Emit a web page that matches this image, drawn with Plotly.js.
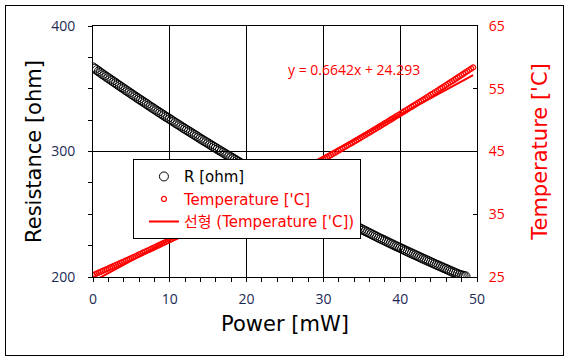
<!DOCTYPE html>
<html>
<head>
<meta charset="utf-8">
<script src="https://cdn.plot.ly/plotly-3.0.1.min.js"></script>
<style>
  html, body { margin: 0; padding: 0; background: #fff; }
  #wrap { position: relative; width: 569px; height: 361px; }
  #chart { width: 569px; height: 361px; }
  #frame { position: absolute; left: 5px; top: 5px; width: 557px; height: 349px; border: 1.5px solid #000; pointer-events: none; }
</style>
</head>
<body>
<div id="wrap"><div id="chart"></div><div id="frame"></div></div>
<script>
// Power [mW]
const power = [
  0,0.25,0.5,0.75,1,1.25,1.5,1.75,2,2.25,2.5,2.75,3,3.25,3.5,3.75,4,4.25,4.5,4.75,
  5,5.25,5.5,5.75,6,6.25,6.5,6.75,7,7.25,7.5,7.75,8,8.25,8.5,8.75,9,9.25,9.5,9.75,
  10,10.25,10.5,10.75,11,11.25,11.5,11.75,12,12.25,12.5,12.75,13,13.25,13.5,13.75,14,14.25,14.5,14.75,
  15,15.25,15.5,15.75,16,16.25,16.5,16.75,17,17.25,17.5,17.75,18,18.25,18.5,18.75,19,19.25,19.5,19.75,
  20,20.25,20.5,20.75,21,21.25,21.5,21.75,22,22.25,22.5,22.75,23,23.25,23.5,23.75,24,24.25,24.5,24.75,
  25,25.25,25.5,25.75,26,26.25,26.5,26.75,27,27.25,27.5,27.75,28,28.25,28.5,28.75,29,29.25,29.5,29.75,
  30,30.25,30.5,30.75,31,31.25,31.5,31.75,32,32.25,32.5,32.75,33,33.25,33.5,33.75,34,34.25,34.5,34.75,
  35,35.25,35.5,35.75,36,36.25,36.5,36.75,37,37.25,37.5,37.75,38,38.25,38.5,38.75,39,39.25,39.5,39.75,
  40,40.25,40.5,40.75,41,41.25,41.5,41.75,42,42.25,42.5,42.75,43,43.25,43.5,43.75,44,44.25,44.5,44.75,
  45,45.25,45.5,45.75,46,46.25,46.5,46.75,47,47.25,47.5,47.75,48,48.25,48.5,48.75,49,49.25,49.5];
// R [ohm]  (no visible R points past 48.5 mW)
const resistance = [
  367.0,366.0,364.9,363.8,362.7,361.6,360.6,359.5,358.5,357.4,356.4,355.3,354.3,353.2,352.2,351.1,350.1,349.0,348.0,347.0,
  345.9,344.9,343.9,342.8,341.8,340.8,339.8,338.8,337.8,336.7,335.7,334.7,333.7,332.7,331.7,330.7,329.7,328.7,327.7,326.8,
  325.8,324.8,323.8,322.8,321.8,320.9,319.9,318.9,317.9,317.0,316.0,315.1,314.1,313.2,312.2,311.2,310.2,309.3,308.3,307.4,
  306.5,305.5,304.6,303.6,302.7,301.7,300.8,299.9,299.0,298.0,297.1,296.2,295.3,294.4,293.5,292.5,291.6,290.7,289.8,288.9,
  288.0,287.1,286.2,285.3,284.4,283.5,282.7,281.8,280.9,280.0,279.1,278.2,277.4,276.5,275.6,274.7,273.9,273.0,272.2,271.3,
  270.5,269.6,268.8,267.9,267.1,266.2,265.4,264.5,263.7,262.8,262.0,261.2,260.4,259.5,258.7,257.9,257.1,256.2,255.4,254.6,
  253.8,253.0,252.2,251.4,250.6,249.8,249.0,248.2,247.4,246.6,245.8,245.0,244.2,243.4,242.7,241.9,241.1,240.3,239.6,238.8,
  238.0,237.2,236.5,235.7,235.0,234.2,233.4,232.7,231.9,231.1,230.4,229.7,229.0,228.2,227.5,226.7,226.0,225.2,224.5,223.8,
  223.1,222.4,221.7,220.9,220.2,219.5,218.8,218.1,217.4,216.7,216.0,215.3,214.6,213.9,213.2,212.5,211.8,211.1,210.4,209.7,
  209.1,208.4,207.7,207.0,206.4,205.7,205.0,204.3,203.7,203.0,202.4,201.8,201.3,200.9,200.6,null,null,null,null];
// Temperature ['C]
const temperature = [
  25.30,25.43,25.57,25.70,25.84,25.97,26.11,26.24,26.38,26.52,26.65,26.79,26.92,27.06,27.20,27.33,27.47,27.61,27.75,27.89,
  28.03,28.17,28.31,28.45,28.59,28.73,28.88,29.02,29.16,29.30,29.45,29.59,29.74,29.88,30.03,30.17,30.32,30.46,30.61,30.75,
  30.90,31.05,31.20,31.34,31.49,31.64,31.79,31.94,32.09,32.24,32.39,32.54,32.69,32.84,32.99,33.14,33.29,33.45,33.60,33.75,
  33.91,34.06,34.21,34.37,34.52,34.68,34.84,34.99,35.15,35.31,35.46,35.62,35.78,35.94,36.09,36.25,36.41,36.57,36.73,36.89,
  37.05,37.21,37.37,37.53,37.70,37.86,38.02,38.18,38.35,38.51,38.67,38.84,39.00,39.17,39.33,39.50,39.66,39.83,40.00,40.16,
  40.33,40.50,40.67,40.84,41.00,41.17,41.34,41.51,41.68,41.85,42.02,42.20,42.37,42.54,42.71,42.88,43.06,43.23,43.40,43.58,
  43.75,43.93,44.10,44.28,44.45,44.63,44.80,44.98,45.16,45.34,45.51,45.69,45.87,46.05,46.23,46.40,46.58,46.76,46.94,47.12,
  47.31,47.49,47.67,47.85,48.03,48.21,48.40,48.58,48.77,48.95,49.14,49.32,49.51,49.69,49.88,50.07,50.25,50.44,50.63,50.81,
  51.00,51.19,51.38,51.57,51.76,51.95,52.14,52.33,52.52,52.71,52.90,53.09,53.28,53.47,53.67,53.86,54.05,54.24,54.44,54.63,
  54.83,55.03,55.22,55.42,55.61,55.81,56.01,56.20,56.40,56.60,56.80,57.00,57.20,57.40,57.60,57.80,58.00,58.20,58.40];
// Linear trend shown on chart: y = 0.6642x + 24.293
const trendSlope = 0.6642;
const trendIntercept = 24.293;
const trendX = [0, 49.5];
const trendY = trendX.map(v => trendSlope * v + trendIntercept);
const trendLabel = "y = 0.6642x + 24.293";

const xTicks = [0, 10, 20, 30, 40, 50];
const yTicks = [200, 300, 400];
const y2Ticks = [25, 35, 45, 55, 65];

const FONT = "'DejaVu Sans', 'Noto Sans CJK KR', sans-serif";
const TICKFONT = "'Open Sans', 'Noto Sans CJK KR', sans-serif";
const NAVY = "#1c2a55";
const RED = "#ff0000";

const traces = [
  {
    x: power, y: resistance, type: 'scatter', mode: 'markers',
    name: '<span style="color:#000">R [ohm]</span>',
    marker: { symbol: 'circle-open', size: 9, color: '#000', line: { width: 1, color: '#000' } },
    yaxis: 'y'
  },
  {
    x: power, y: temperature, type: 'scatter', mode: 'markers',
    name: '<span style="color:#ff0000">Temperature [\'C]</span>',
    marker: { symbol: 'circle-open', size: 5, color: RED, line: { width: 1.2, color: RED } },
    yaxis: 'y2'
  },
  {
    x: trendX, y: trendY, type: 'scatter', mode: 'lines',
    name: '<span style="color:#ff0000">선형 (Temperature [\'C])</span>',
    line: { color: RED, width: 2 },
    yaxis: 'y2'
  }
];

const layout = {
  width: 569, height: 361,
  margin: { l: 93, r: 92, t: 26, b: 84 },
  paper_bgcolor: '#fff', plot_bgcolor: '#fff',
  font: { family: FONT, size: 14, color: '#000' },
  showlegend: true,
  legend: {
    x: 0.104, y: 0.31, xanchor: 'left', yanchor: 'middle',
    bgcolor: '#fff', bordercolor: '#000', borderwidth: 1,
    font: { family: FONT, size: 15, color: '#000' },
    tracegroupgap: 0, itemwidth: 30, indentation: 10
  },
  xaxis: {
    range: [0, 50], tickvals: xTicks, ticktext: xTicks.map(String),
    showgrid: true, gridcolor: '#000', gridwidth: 1,
    showline: true, linecolor: '#000', linewidth: 1, mirror: true,
    ticks: 'outside', ticklen: 4, tickcolor: '#000',
    minor: { dtick: 2, ticks: 'outside', ticklen: 4, tickcolor: '#000', showgrid: false },
    tickfont: { family: TICKFONT, size: 14, color: NAVY },
    ticklabelstandoff: 5,
    zeroline: false,
    title: { text: 'Power [mW]', font: { family: FONT, size: 21, color: '#000' }, standoff: 9 }
  },
  yaxis: {
    range: [200, 400], tickvals: yTicks, ticktext: yTicks.map(String),
    showgrid: true, gridcolor: '#000', gridwidth: 1,
    showline: true, linecolor: '#000', linewidth: 1,
    ticks: 'outside', ticklen: 4, tickcolor: '#000',
    minor: { dtick: 25, ticks: 'outside', ticklen: 4, tickcolor: '#000', showgrid: false },
    tickfont: { family: TICKFONT, size: 14, color: NAVY },
    ticklabelstandoff: 10,
    zeroline: false,
    title: { text: 'Resistance [ohm]', font: { family: FONT, size: 21, color: '#000' }, standoff: 3 }
  },
  yaxis2: {
    overlaying: 'y', side: 'right',
    range: [25, 65], tickvals: y2Ticks, ticktext: y2Ticks.map(String),
    showgrid: false, showline: true, linecolor: '#000', linewidth: 1,
    ticks: 'inside', ticklen: 4, tickcolor: '#000',
    tickfont: { family: TICKFONT, size: 14, color: RED },
    ticklabelstandoff: 8,
    zeroline: false,
    title: { text: "Temperature ['C]", font: { family: FONT, size: 21, color: RED }, standoff: 28 }
  },
  annotations: [
    {
      text: trendLabel, xref: 'x', yref: 'y2', x: 42.9, y: 58.0,
      xanchor: 'right', yanchor: 'middle', showarrow: false,
      font: { family: TICKFONT, size: 14, color: RED }
    }
  ]
};

Plotly.newPlot('chart', traces, layout, { displayModeBar: false, staticPlot: true });
</script>
</body>
</html>
